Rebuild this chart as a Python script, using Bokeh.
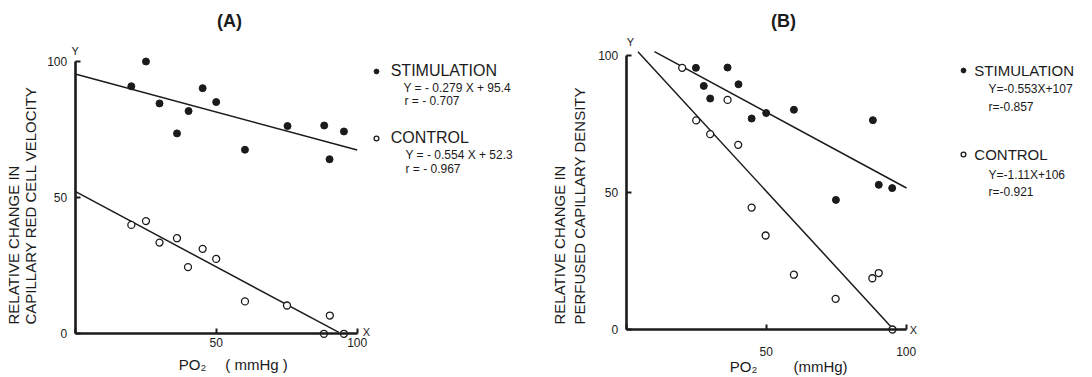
import math
from bokeh.plotting import figure
from bokeh.layouts import row
from bokeh.models import Legend, LegendItem, Label, Range1d, FixedTicker
from bokeh.embed import file_html
from bokeh.resources import INLINE

# ---------------- data ----------------
# Panel A: relative change in capillary red cell velocity vs PO2
a_stim_x = [19.9, 25.1, 29.9, 36.1, 40.2, 45.2, 50.0, 60.2, 75.3, 88.3, 90.2, 95.3]
a_stim_y = [90.9, 100.0, 84.6, 73.6, 81.8, 90.2, 85.1, 67.6, 76.3, 76.5, 64.1, 74.3]
a_ctrl_x = [19.9, 25.1, 29.9, 36.1, 40.0, 45.2, 50.0, 60.2, 75.1, 90.3, 88.2, 95.3]
a_ctrl_y = [40.0, 41.4, 33.5, 35.1, 24.5, 31.2, 27.5, 11.9, 10.4, 6.7, 0.0, 0.0]
a_fit_slope = [-0.279, -0.554]
a_fit_icpt = [95.4, 52.3]
a_fit_x0 = [0.0, 0.0]
a_fit_x1 = [100.0, 93.5]
a_eq = ["Y = - 0.279 X + 95.4", "r = - 0.707", "Y = - 0.554 X + 52.3", "r = - 0.967"]

# Panel B: relative change in perfused capillary density vs PO2
b_stim_x = [24.9, 27.7, 30.0, 36.2, 40.1, 44.8, 50.0, 59.9, 74.9, 88.1, 90.2, 95.0]
b_stim_y = [95.5, 88.9, 84.3, 95.6, 89.5, 77.0, 79.0, 80.2, 47.3, 76.4, 52.8, 51.6]
b_ctrl_x = [20.0, 25.0, 30.0, 36.2, 40.0, 44.8, 49.8, 59.9, 74.8, 87.9, 90.2, 95.1]
b_ctrl_y = [95.5, 76.3, 71.3, 83.8, 67.4, 44.5, 34.3, 20.0, 11.2, 18.7, 20.6, 0.0]
b_fit_slope = [-0.553, -1.11]
b_fit_icpt = [107.0, 106.0]
b_fit_x0 = [10.1, 4.2]
b_fit_x1 = [100.1, 95.3]
b_eq = ["Y=-0.553X+107", "r=-0.857", "Y=-1.11X+106", "r=-0.921"]

series_names = ["STIMULATION", "CONTROL"]
ticks = [0, 50, 100]

INK = "#1b1b1b"
FONT = "Liberation Sans"
W, H = 546, 377


def panel(cfg):
    x0, sx, y0, sy = cfg["x0"], cfg["sx"], cfg["y0"], cfg["sy"]
    dx = lambda px: (px - x0) / sx
    dy = lambda py: (y0 - py) / sy

    p = figure(width=W, height=H, output_backend="svg", toolbar_location=None,
               x_range=Range1d(dx(0), dx(W)), y_range=Range1d(dy(H), dy(0)),
               min_border=0, tools="")
    p.outline_line_color = None
    p.grid.visible = False
    p.background_fill_color = "white"
    p.border_fill_color = "white"

    for ax in (p.xaxis[0], p.yaxis[0]):
        ax.fixed_location = 0
        ax.bounds = (0, 100)
        ax.ticker = FixedTicker(ticks=ticks)
        ax.axis_line_width = 2.6
        ax.axis_line_color = INK
        ax.major_tick_line_width = 2
        ax.major_tick_line_color = INK
        ax.major_tick_in = 5
        ax.major_tick_out = 0
        ax.minor_tick_line_color = None
        ax.major_label_text_font = FONT
        ax.major_label_text_font_size = "12px"
        ax.major_label_text_color = INK
    p.xaxis[0].major_label_overrides = {0: ""}
    p.xaxis[0].major_label_standoff = cfg["xstand"]
    p.yaxis[0].major_label_standoff = 8

    # regression lines
    for s, c, xa, xb in zip(cfg["slope"], cfg["icpt"], cfg["fx0"], cfg["fx1"]):
        p.line([xa, xb], [s * xa + c, s * xb + c], line_color=INK, line_width=1.5)

    rs = p.scatter(cfg["sx_"], cfg["sy_"], size=7, marker="circle",
                   fill_color=INK, line_color=INK)
    rc = p.scatter(cfg["cx_"], cfg["cy_"], size=7, marker="circle",
                   fill_color="white", line_color=INK, line_width=1.3)

    leg = Legend(items=[LegendItem(label=series_names[0], renderers=[rs]),
                        LegendItem(label=series_names[1], renderers=[rc])],
                 location=cfg["leg_loc"], orientation="vertical",
                 glyph_width=12, glyph_height=20, label_height=20,
                 label_standoff=cfg["leg_stand"], spacing=cfg["leg_space"],
                 padding=0, margin=0, border_line_color=None,
                 background_fill_alpha=0, label_text_font=FONT,
                 label_text_font_size=cfg["leg_fs"], label_text_color=INK)
    p.add_layout(leg)

    def lab(px, py, text, size, align="left", angle=0.0, bold=False):
        p.add_layout(Label(x=dx(px), y=dy(py), text=text, text_font=FONT,
                           text_font_size=size, text_color=INK,
                           text_align=align, text_baseline="middle",
                           angle=angle,
                           text_font_style="bold" if bold else "normal"))

    # equations
    for (px, py), t in zip(cfg["eq_pos"], cfg["eq"]):
        lab(px, py, t, "12px")
    # title
    lab(cfg["title_pos"][0], cfg["title_pos"][1], cfg["title"], "18px", align="center", bold=True)
    # axis end letters
    lab(cfg["Y_pos"][0], cfg["Y_pos"][1], "Y", "11px", align="center")
    lab(cfg["X_pos"][0], cfg["X_pos"][1], "X", "11px", align="center")
    # x axis label
    lab(cfg["po2_pos"][0], cfg["po2_pos"][1], "PO\u2082", "15px", align="center")
    lab(cfg["mm_pos"][0], cfg["mm_pos"][1], "( mmHg )" if cfg["title"] == "(A)" else "(mmHg)", "15px", align="center")
    # y axis label (two left-aligned rotated lines)
    for (px, py), t in zip(cfg["ylab_pos"], cfg["ylab"]):
        lab(px, py, t, "15px", angle=math.pi / 2)
    return p


cfg_a = dict(x0=74.7, sx=2.82, y0=333.3, sy=2.723, xstand=4,
             slope=a_fit_slope, icpt=a_fit_icpt, fx0=a_fit_x0, fx1=a_fit_x1,
             sx_=a_stim_x, sy_=a_stim_y, cx_=a_ctrl_x, cy_=a_ctrl_y,
             leg_loc=(369.7, 229.3), leg_stand=9, leg_space=47, leg_fs="16px",
             eq=a_eq, eq_pos=[(403, 87.3), (404, 100.7), (405, 154.3), (405, 168.3)],
             title="(A)", title_pos=(229, 20), Y_pos=(74.7, 50), X_pos=(366, 331),
             po2_pos=(192, 364), mm_pos=(256, 364),
             ylab=["RELATIVE CHANGE IN", "CAPILLARY RED CELL VELOCITY"],
             ylab_pos=[(13, 324), (30, 324)])

cfg_b = dict(x0=79.7, sx=2.8, y0=329.0, sy=2.74, xstand=17,
             slope=b_fit_slope, icpt=b_fit_icpt, fx0=b_fit_x0, fx1=b_fit_x1,
             sx_=b_stim_x, sy_=b_stim_y, cx_=b_ctrl_x, cy_=b_ctrl_y,
             leg_loc=(411.3, 213), leg_stand=5, leg_space=64, leg_fs="15px",
             eq=b_eq, eq_pos=[(442, 88.3), (442, 106.7), (442, 174), (442, 191.7)],
             title="(B)", title_pos=(237, 20), Y_pos=(84, 41), X_pos=(367, 329),
             po2_pos=(197, 366), mm_pos=(274, 366),
             ylab=["RELATIVE CHANGE IN", "PERFUSED CAPILLARY DENSITY"],
             ylab_pos=[(13, 324), (33, 324)])

pa = panel(cfg_a)
pb = panel(cfg_b)
layout = row(pa, pb)

with open("out.html", "w") as f:
    f.write(file_html(layout, INLINE))
